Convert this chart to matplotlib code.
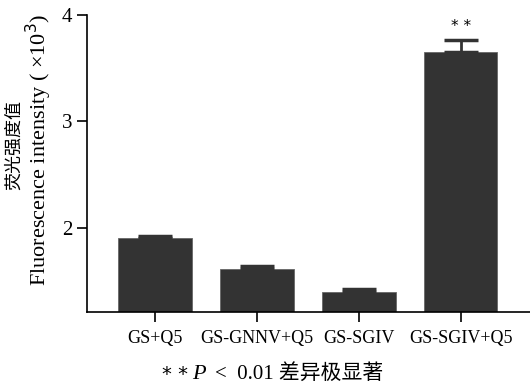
# Bar chart of fluorescence intensity for four groups, with upper error bars
import matplotlib.pyplot as plt

plt.rcParams['font.family'] = ['Liberation Serif', 'Noto Sans CJK SC']

# Data
groups = ['GS+Q5', 'GS-GNNV+Q5', 'GS-SGIV', 'GS-SGIV+Q5']
means = [1.905, 1.615, 1.40, 3.65]
errors = [0.02, 0.028, 0.03, 0.115]
signif = ['', '', '', '* *']

fig = plt.figure(figsize=(5.3, 3.92), dpi=100)
ax = fig.add_axes([0.164, 0.204, 0.836, 0.758])

x = range(len(groups))
ax.bar(x, means, width=0.72, color='#333333', edgecolor='#666666', linewidth=0.6,
       yerr=[[0] * len(errors), errors], capsize=12,
       error_kw={'ecolor': '#333333', 'elinewidth': 2, 'capthick': 2.5})

# significance marks above the bars
for i, s in enumerate(signif):
    if s:
        ax.text(i, means[i] + errors[i] + 0.06, s, ha='center', va='bottom',
                fontsize=11, family='DejaVu Sans')

ax.set_xlim(-0.67, 3.68)
ax.set_ylim(1.21, 4.0)
ax.set_yticks([2, 3, 4])
ax.set_xticks(list(x))
ax.set_xticklabels(groups, fontsize=13)
ax.tick_params(axis='y', labelsize=15, length=7, width=1.2)
ax.tick_params(axis='x', length=7, width=1.2, pad=6)

ax.spines['top'].set_visible(False)
ax.spines['right'].set_visible(False)
ax.spines['left'].set_linewidth(1.2)
ax.spines['bottom'].set_linewidth(1.2)

# two-line y label, drawn as separate texts
fig.text(0.028, 0.63, '荧光强度值', rotation=90, ha='center', va='center', fontsize=13)
fig.text(0.073, 0.617, 'Fluorescence intensity ( ×10$^3$)', rotation=90,
         ha='center', va='center', fontsize=16)

# caption below the chart, P in italics
fig.text(0.355, 0.045, '* *', ha='right', va='center', fontsize=14, family='DejaVu Sans')
fig.text(0.362, 0.045, 'P', ha='left', va='center', fontsize=16, style='italic')
fig.text(0.405, 0.045, '<  0.01 差异极显著', ha='left', va='center', fontsize=15)

fig.savefig('out.png', dpi=100)
